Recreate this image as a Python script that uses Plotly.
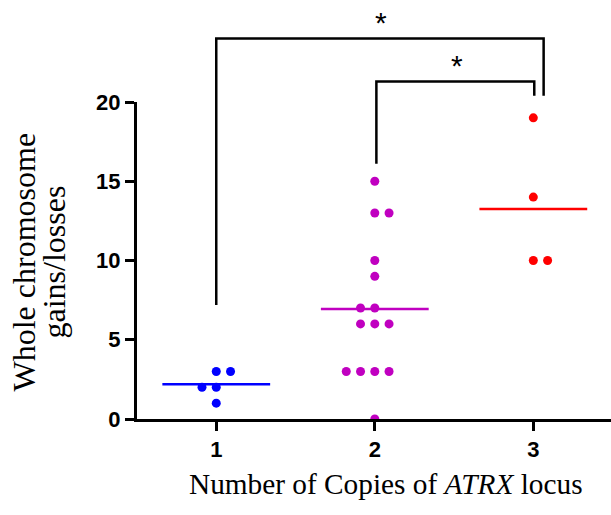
import numpy as np
import plotly.graph_objects as go

# ---- data ----
copies = [1, 2, 3]
x_tick_labels = ["1", "2", "3"]
gains_1 = [3, 3, 2, 2, 1]
gains_2 = [15, 13, 13, 10, 9, 7, 7, 6, 6, 6, 3, 3, 3, 3, 0]
gains_3 = [19, 14, 10, 10]
group_values = [gains_1, gains_2, gains_3]
y_ticks = [0, 5, 10, 15, 20]
sig_labels = ["*", "*"]

# ---- style ----
colors = ["#0000FF", "#C000C0", "#FF0000"]
SLOT = 0.09          # horizontal spacing of tied dots (x units)
HALF = 0.34          # half width of the mean line
lean_right = {(1, 3), (2, 13), (3, 10)}   # tied pairs drawn to the right of centre

W, H = 611, 515
ML, MR, MT, MB = 137, 0, 102, 96
YMAX = 20.0


def swarm_x(g, vals):
    xs = [None] * len(vals)
    seen = {}
    for i, v in enumerate(vals):
        seen.setdefault(v, []).append(i)
    for v, idx in seen.items():
        n = len(idx)
        start = 0 if (n == 2 and (g, v) in lean_right) else -(n // 2)
        for k, i in enumerate(idx):
            xs[i] = g + (start + k) * SLOT
    return xs


fig = go.Figure()
for g, vals, c in zip(copies, group_values, colors):
    m = float(np.mean(vals))
    fig.add_trace(go.Scatter(x=[g - HALF, g + HALF], y=[m, m], mode="lines",
                             line=dict(color=c, width=2.5), hoverinfo="skip",
                             showlegend=False))
    fig.add_trace(go.Scatter(x=swarm_x(g, vals), y=vals, mode="markers",
                             marker=dict(color=c, size=9, line=dict(width=0)),
                             showlegend=False))

# significance brackets (y given in data units, converted to paper)
def p(v):
    return v / YMAX

brackets = [
    (1.0, 7.2, 3.065, 20.4, 24.0),
    (2.01, 16.1, 3.006, 20.4, 21.3),
]
for x0, yb0, x1, yb1, ytop in brackets:
    fig.add_shape(type="path", xref="x", yref="paper",
                  path=f"M {x0},{p(yb0)} L {x0},{p(ytop)} L {x1},{p(ytop)} L {x1},{p(yb1)}",
                  line=dict(color="black", width=2.5))

star_pos = [(2.04, 25.0), (2.517, 22.3)]
for (sx, sy), lab in zip(star_pos, sig_labels):
    fig.add_annotation(x=sx, y=p(sy), xref="x", yref="paper", text=lab,
                       showarrow=False, xanchor="center", yanchor="middle",
                       font=dict(family="Liberation Sans", size=30, color="black"))

# axis titles
plot_w = W - ML - MR
plot_h = H - MT - MB
def px_x(px):
    return (px - ML) / plot_w
def px_y(py):
    return (H - MB - py) / plot_h

fig.add_annotation(x=px_x(385.5), y=px_y(483.5), xref="paper", yref="paper",
                   text="Number of Copies of <i>ATRX</i> locus", showarrow=False,
                   xanchor="center", yanchor="middle",
                   font=dict(family="Liberation Serif", size=29.3, color="black"))
fig.add_annotation(x=px_x(23), y=px_y(262.5), xref="paper", yref="paper",
                   text="Whole chromosome", showarrow=False, textangle=-90,
                   xanchor="center", yanchor="middle",
                   font=dict(family="Liberation Serif", size=32, color="black"))
fig.add_annotation(x=px_x(53), y=px_y(262.5), xref="paper", yref="paper",
                   text="gains/losses", showarrow=False, textangle=-90,
                   xanchor="center", yanchor="middle",
                   font=dict(family="Liberation Serif", size=32, color="black"))

axis_common = dict(showline=True, linewidth=3, linecolor="black", ticks="outside",
                   ticklen=9, tickwidth=3, tickcolor="black", showgrid=False,
                   zeroline=False,
                   tickfont=dict(family="Liberation Sans", size=22, color="black",
                                 weight="bold"))
fig.update_xaxes(range=[0.5, 3.49], tickvals=copies, ticktext=x_tick_labels,
                 **axis_common)
fig.update_yaxes(range=[0, YMAX], tickvals=y_ticks, **axis_common)

fig.update_layout(width=W, height=H, margin=dict(l=ML, r=MR, t=MT, b=MB),
                  plot_bgcolor="white", paper_bgcolor="white")

fig.write_html("out.html", config={"displayModeBar": False},
               post_script="document.body.style.margin='0px';")
